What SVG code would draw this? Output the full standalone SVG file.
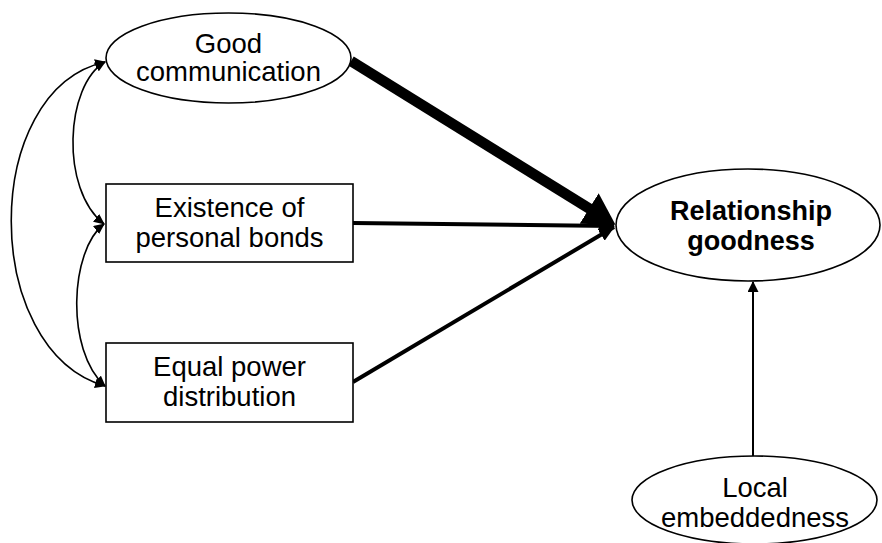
<svg xmlns="http://www.w3.org/2000/svg" width="882" height="543" viewBox="0 0 882 543">
<style>
.shape{fill:#fff;stroke:#000;stroke-width:1.6}
.lbl{font-family:"Liberation Sans",Arial,sans-serif;font-size:27.5px;fill:#000;text-anchor:middle}
.bold{font-weight:bold;font-size:27px}
.cov{fill:none;stroke:#000;stroke-width:1.6}
.path{fill:none;stroke:#000}
</style>
<defs>
<marker id="smallHead" markerUnits="userSpaceOnUse" viewBox="0 0 11 10" refX="10" refY="5" markerWidth="11" markerHeight="10" orient="auto-start-reverse">
<path d="M0,0 L11,5 L0,10 z" fill="#000"/>
</marker>
<marker id="bigHead" markerUnits="userSpaceOnUse" viewBox="0 0 31 36" refX="1" refY="18" markerWidth="31" markerHeight="36" orient="auto">
<path d="M0,0 L31,18 L0,36 z" fill="#000"/>
</marker>
<marker id="midHead" markerUnits="userSpaceOnUse" viewBox="0 0 16 14" refX="15" refY="7" markerWidth="16" markerHeight="14" orient="auto">
<path d="M0,0 L16,7 L0,14 z" fill="#000"/>
</marker>
<marker id="vHead" markerUnits="userSpaceOnUse" viewBox="0 0 11 11" refX="10" refY="5.5" markerWidth="11" markerHeight="11" orient="auto">
<path d="M0,0 L11,5.5 L0,11 z" fill="#000"/>
</marker>
</defs>

<g id="connectors">
<path class="cov" d="M105,62 C -20,90 -20,350 105,386" marker-start="url(#smallHead)" marker-end="url(#smallHead)"/>
<path class="cov" d="M105,62 C 65,85 60,190 104,224" marker-start="url(#smallHead)" marker-end="url(#smallHead)"/>
<path class="cov" d="M104,224 C 70,250 65,350 105,386" marker-start="url(#smallHead)" marker-end="url(#smallHead)"/>
<line class="path" x1="351" y1="61" x2="590" y2="209" stroke-width="10.5" marker-end="url(#bigHead)"/>
<line class="path" x1="353" y1="223" x2="614" y2="226" stroke-width="4" marker-end="url(#midHead)"/>
<line class="path" x1="353" y1="382" x2="614" y2="227" stroke-width="4" marker-end="url(#midHead)"/>
<line class="path" x1="753" y1="456" x2="753" y2="282" stroke-width="2" marker-end="url(#vHead)"/>
</g>

<g id="good-communication">
<ellipse class="shape" cx="228.5" cy="58" rx="122.5" ry="45"/>
<text class="lbl" x="228.5" y="52.5">Good</text>
<text class="lbl" x="228.5" y="80.5">communication</text>
</g>

<g id="existence-of-personal-bonds">
<rect class="shape" x="106" y="184" width="247" height="78"/>
<text class="lbl" x="229.5" y="217">Existence of</text>
<text class="lbl" x="229.5" y="246.5">personal bonds</text>
</g>

<g id="equal-power-distribution">
<rect class="shape" x="106" y="343" width="247" height="79"/>
<text class="lbl" x="229.5" y="376">Equal power</text>
<text class="lbl" x="229.5" y="406">distribution</text>
</g>

<g id="relationship-goodness">
<ellipse class="shape" cx="748" cy="225" rx="132" ry="56"/>
<text class="lbl bold" x="751" y="220">Relationship</text>
<text class="lbl bold" x="751" y="250">goodness</text>
</g>

<g id="local-embeddedness">
<ellipse class="shape" cx="754.5" cy="500" rx="122.5" ry="44"/>
<text class="lbl" x="755" y="496.5">Local</text>
<text class="lbl" x="755" y="526.5">embeddedness</text>
</g>
</svg>
